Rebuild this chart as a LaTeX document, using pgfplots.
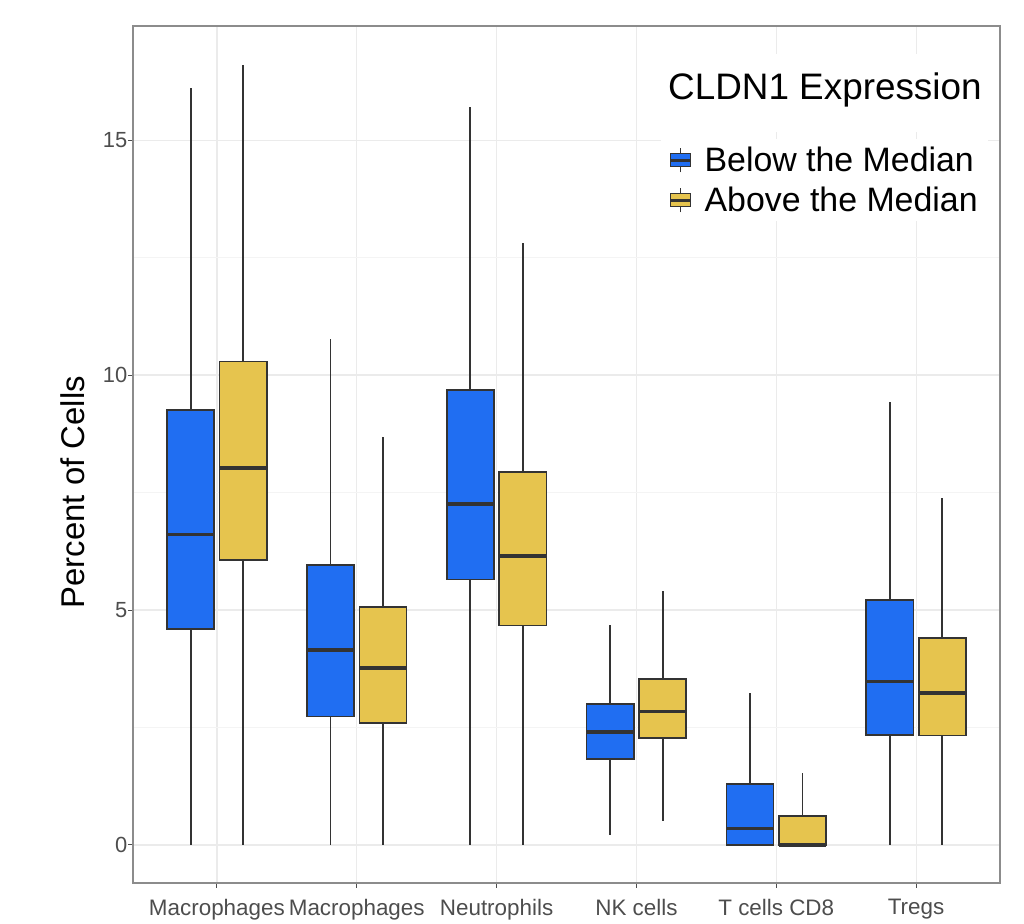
\documentclass[border=0pt]{standalone}
\usepackage{pgfplots}
\pgfplotsset{compat=1.18}
\usepgfplotslibrary{statistics}
\usepackage{fontspec}
\setmainfont{Liberation Sans}
\definecolor{cblue}{RGB}{32,110,242}
\definecolor{cyellow}{RGB}{230,196,78}
\definecolor{boxline}{RGB}{51,51,51}
\definecolor{gridc}{RGB}{235,235,235}
\definecolor{gridm}{RGB}{244,244,244}
\definecolor{framec}{RGB}{140,140,140}
\definecolor{tickc}{RGB}{77,77,77}
\pgfplotsset{
  boxplot/draw direction=y,
  boxplot/box extend=0.3375,
  boxplot/whisker extend=0,
  boxplot/every median/.style={line width=3.5bp},
  boxplot/every whisker/.style={line width=1.8bp},
  bx/.style={forget plot, draw=boxline, line width=1.6bp},
  boxleg/.style={legend image code/.code={
    \draw[##1, draw=boxline, line width=1.2bp] (0bp,-6.5bp) rectangle (20bp,6.5bp);
    \draw[boxline, line width=2.5bp] (0bp,0bp) -- (20bp,0bp);
    \draw[boxline, line width=1.2bp] (10bp,6.5bp)--(10bp,12bp) (10bp,-6.5bp)--(10bp,-12bp);}},
}
\begin{document}
\begin{tikzpicture}
\path[use as bounding box] (-133bp,-41bp) rectangle (891bp,883bp);
\begin{axis}[
  at={(0,0)}, anchor=south west,
  scale only axis, width=867bp, height=857bp,
  xmin=0.4, xmax=6.6, ymin=-0.81, ymax=17.43,
  xtick={1,2,3,4,5,6},
  xticklabels={Macrophages,Macrophages,Neutrophils,NK cells,T cells CD8,Tregs},
  ytick={0,5,10,15}, yticklabels={0,5,10,15},
  minor ytick={2.5,7.5,12.5},
  xmajorgrids, ymajorgrids, yminorgrids,
  major grid style={gridc, line width=1.2bp},
  minor grid style={gridm, line width=1bp},
  axis line style={framec, line width=1.3bp},
  tick align=outside, major tick length=5bp, minor tick length=0bp,
  xtick pos=left, ytick pos=left,
  tick style={tickc, line width=1bp},
  xticklabel style={font=\fontsize{22.5}{26}\selectfont, text=tickc, inner sep=0bp, anchor=north, yshift=-11bp},
  yticklabel style={font=\fontsize{22}{26}\selectfont, text=tickc, inner sep=0.5bp},
  ylabel={Percent of Cells},
  ylabel style={font=\fontsize{33}{38}\selectfont, at={([xshift=-48bp]axis description cs:0,0.456)}, anchor=south, inner sep=0bp},
  legend style={at={(rel axis cs:0.986,0.868)}, anchor=north east, draw=none, fill=white,
    font=\fontsize{34}{40}\selectfont, inner xsep=8bp, inner ysep=6bp, row sep=10bp,
    /tikz/every odd column/.append style={column sep=11bp}},
  legend cell align=left,
]
\addlegendimage{boxleg, fill=cblue}
\addlegendentry{Below the Median}
\addlegendimage{boxleg, fill=cyellow}
\addlegendentry{Above the Median}
% Below the Median (blue)
\addplot[bx, fill=cblue, boxplot prepared={draw position=0.8125, lower whisker=0, lower quartile=4.59, median=6.61, upper quartile=9.26, upper whisker=16.10}] coordinates {};
\addplot[bx, fill=cblue, boxplot prepared={draw position=1.8125, lower whisker=0, lower quartile=2.73, median=4.15, upper quartile=5.96, upper whisker=10.76}] coordinates {};
\addplot[bx, fill=cblue, boxplot prepared={draw position=2.8125, lower whisker=0, lower quartile=5.65, median=7.26, upper quartile=9.68, upper whisker=15.70}] coordinates {};
\addplot[bx, fill=cblue, boxplot prepared={draw position=3.8125, lower whisker=0.21, lower quartile=1.83, median=2.40, upper quartile=3.00, upper whisker=4.68}] coordinates {};
\addplot[bx, fill=cblue, boxplot prepared={draw position=4.8125, lower whisker=0, lower quartile=0, median=0.35, upper quartile=1.30, upper whisker=3.23}] coordinates {};
\addplot[bx, fill=cblue, boxplot prepared={draw position=5.8125, lower whisker=0, lower quartile=2.34, median=3.48, upper quartile=5.21, upper whisker=9.43}] coordinates {};
% Above the Median (yellow)
\addplot[bx, fill=cyellow, boxplot prepared={draw position=1.1875, lower whisker=0, lower quartile=6.07, median=8.02, upper quartile=10.29, upper whisker=16.60}] coordinates {};
\addplot[bx, fill=cyellow, boxplot prepared={draw position=2.1875, lower whisker=0, lower quartile=2.59, median=3.77, upper quartile=5.07, upper whisker=8.69}] coordinates {};
\addplot[bx, fill=cyellow, boxplot prepared={draw position=3.1875, lower whisker=0, lower quartile=4.67, median=6.15, upper quartile=7.94, upper whisker=12.81}] coordinates {};
\addplot[bx, fill=cyellow, boxplot prepared={draw position=4.1875, lower whisker=0.51, lower quartile=2.27, median=2.84, upper quartile=3.53, upper whisker=5.40}] coordinates {};
\addplot[bx, fill=cyellow, boxplot prepared={draw position=5.1875, lower whisker=0, lower quartile=0, median=0, upper quartile=0.62, upper whisker=1.53}] coordinates {};
\addplot[bx, fill=cyellow, boxplot prepared={draw position=6.1875, lower whisker=0, lower quartile=2.33, median=3.23, upper quartile=4.41, upper whisker=7.38}] coordinates {};
\end{axis}
\node[fill=white, anchor=base west, inner xsep=14bp, inner ysep=0bp, text depth=32bp, text height=46bp, font=\fontsize{37}{42}\selectfont] at (521bp,783bp) {CLDN1 Expression};
\end{tikzpicture}
\end{document}
